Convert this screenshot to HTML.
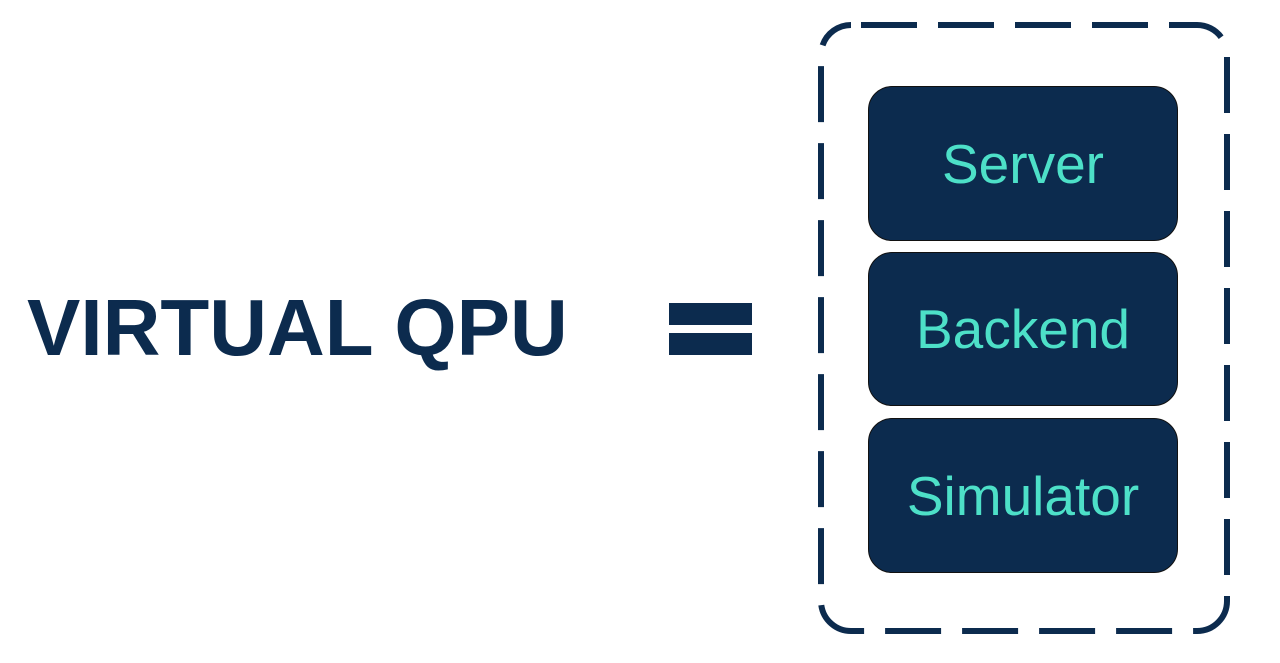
<!DOCTYPE html>
<html><head><style>
body{margin:0;width:1280px;height:663px;background:#fff;overflow:hidden;position:relative;font-family:"Liberation Sans",sans-serif}
.t{position:absolute;left:27px;top:283px;font-size:80px;font-weight:bold;color:#0c2b4e;letter-spacing:0px;line-height:90px;white-space:nowrap}
.bar{position:absolute;left:669px;width:83px;height:22px;background:#0c2b4e}
.b{position:absolute;left:868px;width:310px;background:#0c2b4e;border:1.5px solid #111;box-sizing:border-box;border-radius:24px;color:#4de0c8;font-size:55px;display:flex;align-items:center;justify-content:center}
</style></head><body>
<div class="t">VIRTUAL QPU</div>
<div class="bar" style="top:303px"></div>
<div class="bar" style="top:333px"></div>
<svg style="position:absolute;left:0;top:0" width="1280" height="663">
<rect x="821" y="25" width="406" height="606" rx="30" fill="none" stroke="#0c2b4e" stroke-width="6" stroke-dasharray="56 21" stroke-dashoffset="-10"/>
</svg>
<div class="b" style="top:86px;height:155px">Server</div>
<div class="b" style="top:252px;height:154px">Backend</div>
<div class="b" style="top:418px;height:155px">Simulator</div>
</body></html>
